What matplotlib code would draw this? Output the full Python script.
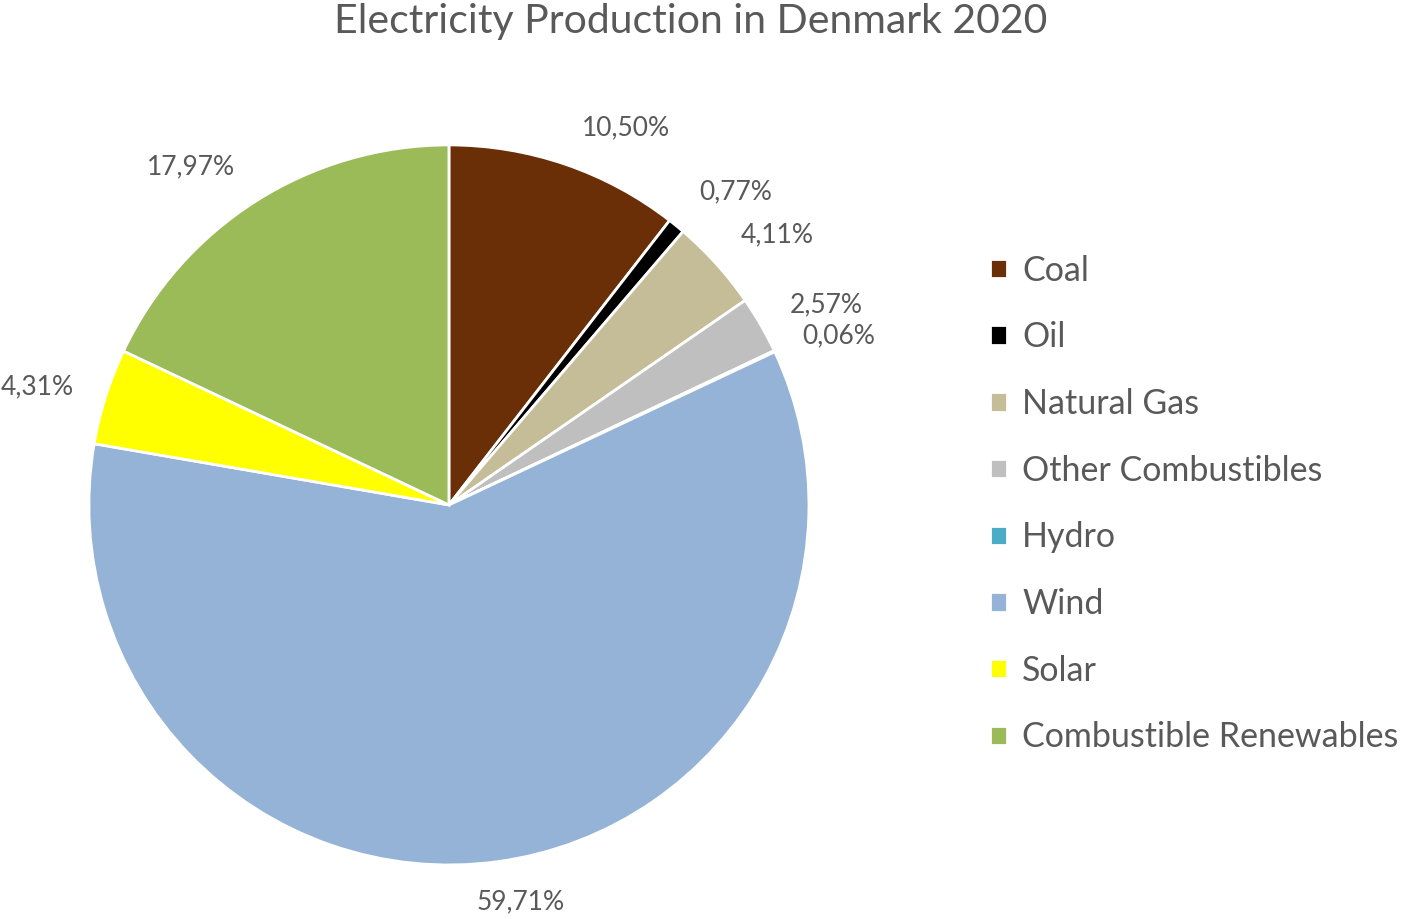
import numpy as np
import matplotlib.pyplot as plt

plt.rcParams['font.family'] = ['Lato', 'DejaVu Sans']

# 数据
sources = ['Coal', 'Oil', 'Natural Gas', 'Other Combustibles', 'Hydro',
           'Wind', 'Solar', 'Combustible Renewables']
shares = [10.50, 0.77, 4.11, 2.57, 0.06, 59.71, 4.31, 17.97]
colors = ['#6A2F06', '#000000', '#C4BD97', '#BFBFBF', '#4BACC6',
          '#95B3D7', '#FFFF00', '#9BBB59']
title = 'Electricity Production in Denmark 2020'

text_color = '#595959'

# 标签位置微调（角度偏移、半径）
label_shift = [-6.3, -3.3, -2.6, -2.0, -1.8, 2.6, 1.5, 5.0]
label_radius = [1.157, 1.18, 1.18, 1.186, 1.18, 1.12, 1.19, 1.18]

fig = plt.figure(figsize=(14.18, 9.19), dpi=100)
ax = fig.add_axes([0.0627, 0.0588, 0.5078, 0.7835])

wedges, texts, autotexts = ax.pie(
    shares, colors=colors, startangle=90, counterclock=False,
    autopct=lambda p: f'{p:.2f}%'.replace('.', ','), pctdistance=1.17,
    wedgeprops=dict(edgecolor='white', linewidth=2.0),
    textprops=dict(color=text_color, fontsize=19))

# 按扇区中心角放置百分比标签
for w, t, d, r in zip(wedges, autotexts, label_shift, label_radius):
    ang = np.deg2rad((w.theta1 + w.theta2) / 2 + d)
    t.set_position((r * np.cos(ang), r * np.sin(ang)))

ax.set_xlim(-1, 1)
ax.set_ylim(-1, 1)
ax.set_aspect('equal')

# 标题
fig.text(0.487, 0.977, title, ha='center', va='center',
         fontsize=29.5, color=text_color)

# 图例
fig.legend(wedges, sources, loc='center left', bbox_to_anchor=(0.698, 0.4516),
           frameon=False, fontsize=24.5, labelcolor=text_color,
           handlelength=0.5, handleheight=0.5, handletextpad=0.45,
           labelspacing=1.02, borderpad=0, borderaxespad=0)

fig.savefig('out.png', dpi=100)
